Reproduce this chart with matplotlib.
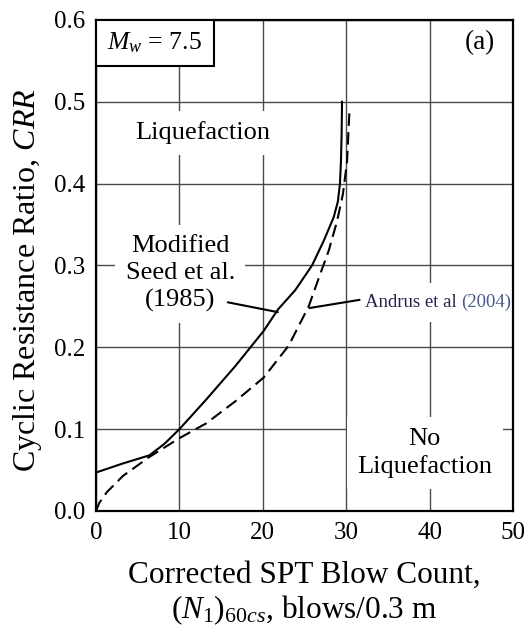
import matplotlib
matplotlib.use("Agg")
import matplotlib.pyplot as plt
from matplotlib.patches import Rectangle

plt.rcParams['font.family'] = ['Liberation Serif', 'DejaVu Serif']
plt.rcParams['mathtext.fontset'] = 'custom'
plt.rcParams['mathtext.rm'] = 'Liberation Serif'
plt.rcParams['mathtext.it'] = 'Liberation Serif:italic'

# Modified Seed et al. (1985), solid
seed_n = [0, 3.2, 6.4, 8.2, 10, 13.2, 16.7, 20.1, 21.8, 23.9, 25.9, 27.3, 28.5, 29.0, 29.25, 29.37, 29.45, 29.5]
seed_crr = [0.047, 0.058, 0.068, 0.082, 0.1, 0.136, 0.177, 0.22, 0.246, 0.27, 0.3, 0.33, 0.359, 0.378, 0.4, 0.427, 0.46, 0.5]

# Andrus et al (2004), dashed
andrus_n = [0, 0.4, 1.3, 3.25, 6.4, 10, 13.2, 16.7, 20.1, 23.1, 25.5, 26.9, 27.9, 28.9, 29.6, 30.1, 30.4]
andrus_crr = [0, 0.01, 0.023, 0.043, 0.066, 0.089, 0.107, 0.134, 0.163, 0.202, 0.25, 0.29, 0.318, 0.354, 0.387, 0.427, 0.491]

xticks = [0, 10, 20, 30, 40, 50]
yticks = [0.0, 0.1, 0.2, 0.3, 0.4, 0.5, 0.6]

fig = plt.figure(figsize=(5.26, 6.3), dpi=100)
ax = fig.add_axes([0.1825, 0.1889, 0.7928, 0.7794])

ax.set_xlim(0, 50)
ax.set_ylim(0, 0.6)
ax.set_xticks(xticks)
ax.set_yticks(yticks)
ax.set_yticklabels(['%.1f' % v for v in yticks])
ax.tick_params(length=0, labelsize=18, pad=8)
ax.grid(True, color='#4a4a4a', lw=1.0, zorder=1)
ax.set_axisbelow(True)
for sp in ax.spines.values():
    sp.set_linewidth(1.6)

ax.plot(seed_n, seed_crr, color='black', lw=1.5, zorder=4)
ax.plot(andrus_n, andrus_crr, color='black', lw=1.5, ls=(0, (6, 3)), zorder=4)

box = dict(boxstyle='square,pad=0.4', facecolor='white', edgecolor='none')

ax.text(12.8, 0.462, 'Liquefaction', fontsize=19, ha='center', va='center', bbox=box, zorder=3)
ax.text(10.1, 0.29, 'Modified\nSeed et al.\n(1985)', fontsize=19, ha='center', va='center',
        linespacing=1.3, bbox=box, zorder=3)
ax.text(39.4, 0.071, 'No\nLiquefaction', fontsize=19, ha='center', va='center',
        linespacing=1.3, bbox=box, zorder=3)

ax.annotate('', xy=(21.8, 0.243), xytext=(15.8, 0.255),
            arrowprops=dict(arrowstyle='-', color='black', lw=1.5, shrinkA=0, shrinkB=0), zorder=5)
ax.annotate('', xy=(25.6, 0.248), xytext=(31.6, 0.258),
            arrowprops=dict(arrowstyle='-', color='black', lw=1.5, shrinkA=0, shrinkB=0), zorder=5)

t1 = ax.text(32.2, 0.255, 'Andrus et al ', fontsize=13.5, color='#2b1f4a', ha='left', va='center',
             bbox=dict(boxstyle='square,pad=0.6', facecolor='white', edgecolor='none'), zorder=3)
ax.annotate('(2004)', xy=(1, 0), xycoords=t1, fontsize=13.5, color='#4a5a8a', ha='left', va='bottom',
            zorder=3)

ax.add_patch(Rectangle((0, 0.544), 14.1, 0.056, facecolor='white', edgecolor='black', lw=1.5, zorder=5))
ax.text(7.0, 0.572, '$M_w$ = 7.5', fontsize=18.5, ha='center', va='center', zorder=6)
ax.text(46.0, 0.572, '(a)', fontsize=19.5, ha='center', va='center', zorder=6)

ax.set_xlabel('Corrected SPT Blow Count,\n$(N_1)_{60cs}$, blows/0.3 m', fontsize=22.5,
              linespacing=1.15, labelpad=12)
ax.set_ylabel('Cyclic Resistance Ratio, $CRR$', fontsize=23)
ax.yaxis.set_label_coords(-0.125, 0.47)

fig.savefig('out.png', dpi=100)
